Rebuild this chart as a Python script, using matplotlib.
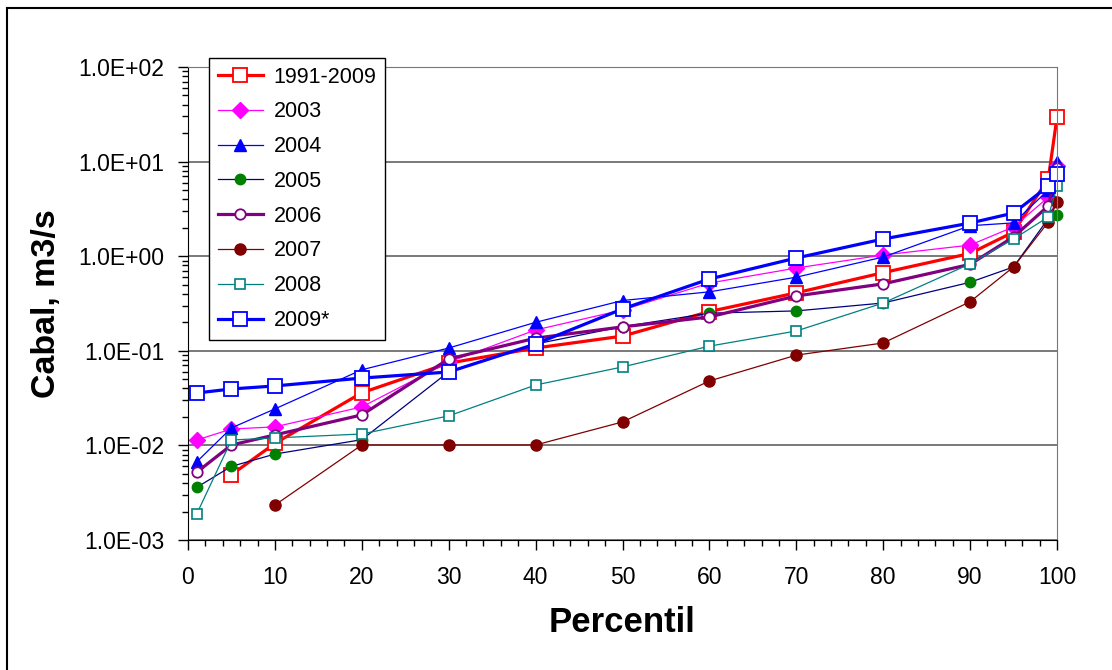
import numpy as np
import matplotlib
matplotlib.use('Agg')
from matplotlib import pyplot as plt
from matplotlib.ticker import FuncFormatter, MultipleLocator, LogLocator, NullFormatter
from matplotlib.patches import Rectangle

plt.rcParams['font.family'] = ['Liberation Sans', 'DejaVu Sans']

nan = np.nan
percentil = [1, 5, 10, 20, 30, 40, 50, 60, 70, 80, 90, 95, 99, 100]

q_1991_2009 = [nan, 0.0049, 0.0105, 0.036, 0.074, 0.107, 0.143, 0.26, 0.41, 0.67, 1.07, 1.8, 6.6, 29.5]
q_2003 = [0.0114, 0.0149, 0.0157, 0.0255, 0.076, 0.166, 0.27, 0.52, 0.75, 1.03, 1.31, 2.04, 4.2, 9.0]
q_2004 = [0.0067, 0.0153, 0.0243, 0.063, 0.107, 0.20, 0.34, 0.42, 0.60, 0.98, 2.1, 2.25, 5.0, 9.9]
q_2005 = [0.0036, 0.006, 0.0081, 0.0115, 0.06, 0.118, 0.18, 0.25, 0.264, 0.32, 0.53, 0.77, 2.5, 2.73]
q_2006 = [0.0052, 0.0101, 0.0129, 0.021, 0.082, 0.136, 0.179, 0.228, 0.38, 0.51, 0.82, 1.6, 3.4, 8.5]
q_2007 = [nan, nan, 0.00234, 0.0101, 0.0101, 0.0101, 0.0177, 0.048, 0.090, 0.121, 0.33, 0.77, 2.3, 3.74]
q_2008 = [0.00188, 0.0114, 0.012, 0.0132, 0.0205, 0.0435, 0.0675, 0.112, 0.162, 0.32, 0.83, 1.52, 2.6, 5.5]
q_2009 = [0.0358, 0.0395, 0.0425, 0.0515, 0.0597, 0.118, 0.277, 0.574, 0.957, 1.52, 2.24, 2.86, 5.5, 7.4]

fig = plt.figure(figsize=(11.12, 6.70), dpi=100)
ax = fig.add_axes([188/1112, 1-540/670, (1057-188)/1112, (540-67)/670])

ax.plot(percentil, q_1991_2009, color='#FF0000', lw=2.3, marker='s', ms=10, mfc='white', mec='#FF0000', mew=1.3, label='1991-2009', clip_on=False)
ax.plot(percentil, q_2003, color='#FF00FF', lw=0.9, marker='D', ms=8, mfc='#FF00FF', mec='#FF00FF', label='2003', clip_on=False)
ax.plot(percentil, q_2004, color='#0000FF', lw=0.9, marker='^', ms=9, mfc='#0000FF', mec='#0000FF', label='2004', clip_on=False)
ax.plot(percentil, q_2005, color='#000080', lw=0.9, marker='o', ms=7.5, mfc='#008000', mec='#008000', label='2005', clip_on=False)
ax.plot(percentil, q_2006, color='#800080', lw=2.3, marker='o', ms=7.5, mfc='white', mec='#800080', mew=1.3, label='2006', clip_on=False)
ax.plot(percentil, q_2007, color='#800000', lw=0.9, marker='o', ms=8, mfc='#800000', mec='#800000', label='2007', clip_on=False)
ax.plot(percentil, q_2008, color='#008080', lw=0.9, marker='s', ms=7.5, mfc='white', mec='#008080', mew=1.2, label='2008', clip_on=False)
ax.plot(percentil, q_2009, color='#0000FF', lw=2.3, marker='s', ms=10, mfc='white', mec='#0000FF', mew=1.3, label='2009*', clip_on=False)

ax.set_yscale('log')
ax.set_ylim(1e-3, 1e2)
ax.set_xlim(0, 100)
ax.xaxis.set_major_locator(MultipleLocator(10))
ax.xaxis.set_minor_locator(MultipleLocator(2))
ax.yaxis.set_major_locator(LogLocator(base=10, numticks=10))
ax.yaxis.set_minor_locator(LogLocator(base=10, subs=np.arange(2, 10), numticks=20))
ax.yaxis.set_minor_formatter(NullFormatter())
ax.yaxis.set_major_formatter(FuncFormatter(lambda v, p: f"{v:.1E}"))

ax.tick_params(axis='both', which='major', direction='out', length=7, width=1, labelsize=16.5, pad=10)
ax.tick_params(axis='both', which='minor', direction='out', length=4, width=1)
ax.tick_params(axis='x', which='major', pad=12)

ax.grid(axis='y', which='major', color='#555555', lw=1.1)
ax.set_axisbelow(True)
for side in ['top', 'right']:
    ax.spines[side].set_color('#777777')
for side in ['left', 'bottom']:
    ax.spines[side].set_color('black')

ax.set_xlabel('Percentil', fontsize=25, fontweight='bold', labelpad=12)
ax.set_ylabel('Cabal, m3/s', fontsize=24.5, fontweight='bold', labelpad=12)

leg = ax.legend(loc='upper left', bbox_to_anchor=(209/1112, 1-58/670), bbox_transform=fig.transFigure,
                fontsize=15.5, frameon=True, fancybox=False, framealpha=1, edgecolor='black',
                handlelength=2.1, handletextpad=0.5, labelspacing=0.64, borderpad=0.4, borderaxespad=0)
leg.get_frame().set_linewidth(1)
leg.set_zorder(5)

fig.add_artist(Rectangle((7/1112, -0.1), 1.2, 1.1-8/670, transform=fig.transFigure,
                         fill=False, ec='black', lw=1.5))

plt.savefig('out.png', dpi=100)
